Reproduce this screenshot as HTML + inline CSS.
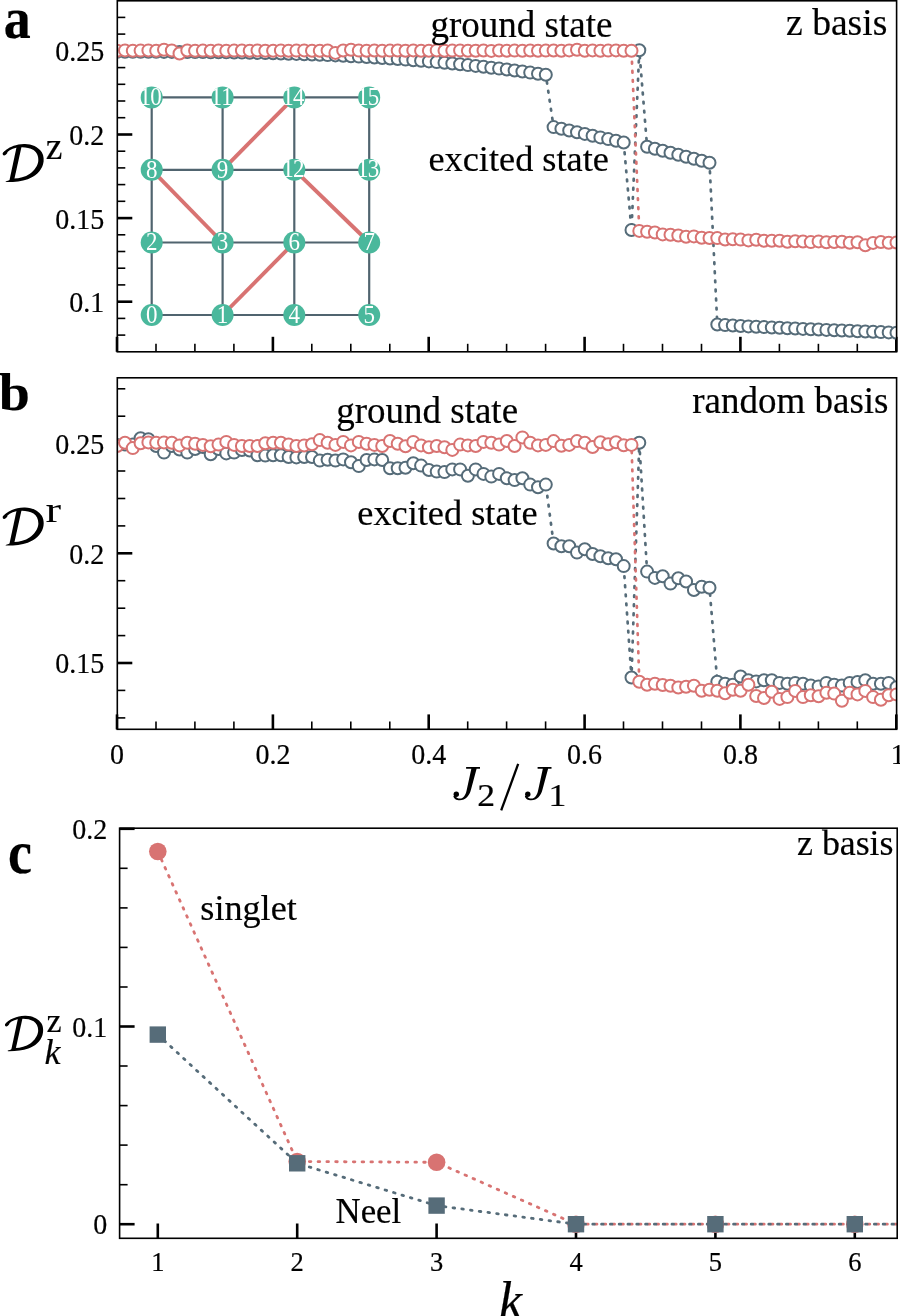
<!DOCTYPE html><html><head><meta charset="utf-8"><style>html,body{margin:0;padding:0;background:#fff;}svg{display:block;will-change:transform}</style></head><body>
<svg width="900" height="1316" viewBox="0 0 900 1316" style="font-family:'Liberation Serif',serif">
<defs><clipPath id="ca"><rect x="117.3" y="0.8" width="779.3" height="351"/></clipPath><clipPath id="cb"><rect x="117.3" y="377.8" width="779.3" height="351.5"/></clipPath><clipPath id="cc"><rect x="119.6" y="828.2" width="777.6" height="410.1"/></clipPath></defs>
<rect width="900" height="1316" fill="#fff"/>
<line x1="117.3" y1="50.9" x2="132.3" y2="50.9" stroke="#000" stroke-width="2.6"/><line x1="117.3" y1="134.5" x2="132.3" y2="134.5" stroke="#000" stroke-width="2.6"/><line x1="117.3" y1="218.1" x2="132.3" y2="218.1" stroke="#000" stroke-width="2.6"/><line x1="117.3" y1="301.7" x2="132.3" y2="301.7" stroke="#000" stroke-width="2.6"/><line x1="117.3" y1="17.4" x2="125.3" y2="17.4" stroke="#000" stroke-width="1.6"/><line x1="117.3" y1="34.1" x2="125.3" y2="34.1" stroke="#000" stroke-width="1.6"/><line x1="117.3" y1="67.6" x2="125.3" y2="67.6" stroke="#000" stroke-width="1.6"/><line x1="117.3" y1="84.3" x2="125.3" y2="84.3" stroke="#000" stroke-width="1.6"/><line x1="117.3" y1="101.0" x2="125.3" y2="101.0" stroke="#000" stroke-width="1.6"/><line x1="117.3" y1="117.7" x2="125.3" y2="117.7" stroke="#000" stroke-width="1.6"/><line x1="117.3" y1="151.2" x2="125.3" y2="151.2" stroke="#000" stroke-width="1.6"/><line x1="117.3" y1="167.9" x2="125.3" y2="167.9" stroke="#000" stroke-width="1.6"/><line x1="117.3" y1="184.6" x2="125.3" y2="184.6" stroke="#000" stroke-width="1.6"/><line x1="117.3" y1="201.3" x2="125.3" y2="201.3" stroke="#000" stroke-width="1.6"/><line x1="117.3" y1="234.8" x2="125.3" y2="234.8" stroke="#000" stroke-width="1.6"/><line x1="117.3" y1="251.5" x2="125.3" y2="251.5" stroke="#000" stroke-width="1.6"/><line x1="117.3" y1="268.2" x2="125.3" y2="268.2" stroke="#000" stroke-width="1.6"/><line x1="117.3" y1="284.9" x2="125.3" y2="284.9" stroke="#000" stroke-width="1.6"/><line x1="117.3" y1="318.4" x2="125.3" y2="318.4" stroke="#000" stroke-width="1.6"/><line x1="117.3" y1="335.1" x2="125.3" y2="335.1" stroke="#000" stroke-width="1.6"/>
<line x1="117.0" y1="351.8" x2="117.0" y2="336.8" stroke="#000" stroke-width="2.6"/><line x1="272.9" y1="351.8" x2="272.9" y2="336.8" stroke="#000" stroke-width="2.6"/><line x1="428.7" y1="351.8" x2="428.7" y2="336.8" stroke="#000" stroke-width="2.6"/><line x1="584.6" y1="351.8" x2="584.6" y2="336.8" stroke="#000" stroke-width="2.6"/><line x1="740.4" y1="351.8" x2="740.4" y2="336.8" stroke="#000" stroke-width="2.6"/><line x1="896.3" y1="351.8" x2="896.3" y2="336.8" stroke="#000" stroke-width="2.6"/><line x1="156.0" y1="351.8" x2="156.0" y2="343.8" stroke="#000" stroke-width="1.6"/><line x1="194.9" y1="351.8" x2="194.9" y2="343.8" stroke="#000" stroke-width="1.6"/><line x1="233.9" y1="351.8" x2="233.9" y2="343.8" stroke="#000" stroke-width="1.6"/><line x1="311.8" y1="351.8" x2="311.8" y2="343.8" stroke="#000" stroke-width="1.6"/><line x1="350.8" y1="351.8" x2="350.8" y2="343.8" stroke="#000" stroke-width="1.6"/><line x1="389.8" y1="351.8" x2="389.8" y2="343.8" stroke="#000" stroke-width="1.6"/><line x1="467.7" y1="351.8" x2="467.7" y2="343.8" stroke="#000" stroke-width="1.6"/><line x1="506.6" y1="351.8" x2="506.6" y2="343.8" stroke="#000" stroke-width="1.6"/><line x1="545.6" y1="351.8" x2="545.6" y2="343.8" stroke="#000" stroke-width="1.6"/><line x1="623.5" y1="351.8" x2="623.5" y2="343.8" stroke="#000" stroke-width="1.6"/><line x1="662.5" y1="351.8" x2="662.5" y2="343.8" stroke="#000" stroke-width="1.6"/><line x1="701.5" y1="351.8" x2="701.5" y2="343.8" stroke="#000" stroke-width="1.6"/><line x1="779.4" y1="351.8" x2="779.4" y2="343.8" stroke="#000" stroke-width="1.6"/><line x1="818.4" y1="351.8" x2="818.4" y2="343.8" stroke="#000" stroke-width="1.6"/><line x1="857.3" y1="351.8" x2="857.3" y2="343.8" stroke="#000" stroke-width="1.6"/>
<g><line x1="151.7" y1="315.0" x2="369.2" y2="315.0" stroke="#50646f" stroke-width="2.2"/><line x1="151.7" y1="242.5" x2="369.2" y2="242.5" stroke="#50646f" stroke-width="2.2"/><line x1="151.7" y1="169.8" x2="369.2" y2="169.8" stroke="#50646f" stroke-width="2.2"/><line x1="151.7" y1="97.4" x2="369.2" y2="97.4" stroke="#50646f" stroke-width="2.2"/><line x1="151.7" y1="315.0" x2="151.7" y2="97.4" stroke="#50646f" stroke-width="2.2"/><line x1="222.6" y1="315.0" x2="222.6" y2="97.4" stroke="#50646f" stroke-width="2.2"/><line x1="294.3" y1="315.0" x2="294.3" y2="97.4" stroke="#50646f" stroke-width="2.2"/><line x1="369.2" y1="315.0" x2="369.2" y2="97.4" stroke="#50646f" stroke-width="2.2"/><line x1="222.6" y1="315.0" x2="294.3" y2="242.5" stroke="#d87372" stroke-width="3.9"/><line x1="151.7" y1="169.8" x2="222.6" y2="242.5" stroke="#d87372" stroke-width="3.9"/><line x1="222.6" y1="169.8" x2="294.3" y2="97.4" stroke="#d87372" stroke-width="3.9"/><line x1="294.3" y1="169.8" x2="369.2" y2="242.5" stroke="#d87372" stroke-width="3.9"/><circle cx="151.7" cy="315.0" r="11" fill="#4ab89c"/><text x="0" y="0" transform="translate(151.7,322.8) scale(1.0,1.06)" font-size="23" text-anchor="middle" font-weight="normal" font-style="normal" fill="#fff" >0</text><circle cx="222.6" cy="315.0" r="11" fill="#4ab89c"/><text x="0" y="0" transform="translate(222.6,322.8) scale(1.0,1.06)" font-size="23" text-anchor="middle" font-weight="normal" font-style="normal" fill="#fff" >1</text><circle cx="294.3" cy="315.0" r="11" fill="#4ab89c"/><text x="0" y="0" transform="translate(294.3,322.8) scale(1.0,1.06)" font-size="23" text-anchor="middle" font-weight="normal" font-style="normal" fill="#fff" >4</text><circle cx="369.2" cy="315.0" r="11" fill="#4ab89c"/><text x="0" y="0" transform="translate(369.2,322.8) scale(1.0,1.06)" font-size="23" text-anchor="middle" font-weight="normal" font-style="normal" fill="#fff" >5</text><circle cx="151.7" cy="242.5" r="11" fill="#4ab89c"/><text x="0" y="0" transform="translate(151.7,250.3) scale(1.0,1.06)" font-size="23" text-anchor="middle" font-weight="normal" font-style="normal" fill="#fff" >2</text><circle cx="222.6" cy="242.5" r="11" fill="#4ab89c"/><text x="0" y="0" transform="translate(222.6,250.3) scale(1.0,1.06)" font-size="23" text-anchor="middle" font-weight="normal" font-style="normal" fill="#fff" >3</text><circle cx="294.3" cy="242.5" r="11" fill="#4ab89c"/><text x="0" y="0" transform="translate(294.3,250.3) scale(1.0,1.06)" font-size="23" text-anchor="middle" font-weight="normal" font-style="normal" fill="#fff" >6</text><circle cx="369.2" cy="242.5" r="11" fill="#4ab89c"/><text x="0" y="0" transform="translate(369.2,250.3) scale(1.0,1.06)" font-size="23" text-anchor="middle" font-weight="normal" font-style="normal" fill="#fff" >7</text><circle cx="151.7" cy="169.8" r="11" fill="#4ab89c"/><text x="0" y="0" transform="translate(151.7,177.6) scale(1.0,1.06)" font-size="23" text-anchor="middle" font-weight="normal" font-style="normal" fill="#fff" >8</text><circle cx="222.6" cy="169.8" r="11" fill="#4ab89c"/><text x="0" y="0" transform="translate(222.6,177.6) scale(1.0,1.06)" font-size="23" text-anchor="middle" font-weight="normal" font-style="normal" fill="#fff" >9</text><circle cx="294.3" cy="169.8" r="11" fill="#4ab89c"/><text x="0" y="0" transform="translate(287.9,177.4) scale(1.0,1.06)" font-size="23" text-anchor="middle" font-weight="normal" font-style="normal" fill="#fff" >1</text><text x="0" y="0" transform="translate(298.7,177.4) scale(1.0,1.06)" font-size="23" text-anchor="middle" font-weight="normal" font-style="normal" fill="#fff" >2</text><circle cx="369.2" cy="169.8" r="11" fill="#4ab89c"/><text x="0" y="0" transform="translate(362.8,177.4) scale(1.0,1.06)" font-size="23" text-anchor="middle" font-weight="normal" font-style="normal" fill="#fff" >1</text><text x="0" y="0" transform="translate(373.6,177.4) scale(1.0,1.06)" font-size="23" text-anchor="middle" font-weight="normal" font-style="normal" fill="#fff" >3</text><circle cx="151.7" cy="97.4" r="11" fill="#4ab89c"/><text x="0" y="0" transform="translate(145.3,105.0) scale(1.0,1.06)" font-size="23" text-anchor="middle" font-weight="normal" font-style="normal" fill="#fff" >1</text><text x="0" y="0" transform="translate(156.1,105.0) scale(1.0,1.06)" font-size="23" text-anchor="middle" font-weight="normal" font-style="normal" fill="#fff" >0</text><circle cx="222.6" cy="97.4" r="11" fill="#4ab89c"/><text x="0" y="0" transform="translate(216.2,105.0) scale(1.0,1.06)" font-size="23" text-anchor="middle" font-weight="normal" font-style="normal" fill="#fff" >1</text><text x="0" y="0" transform="translate(227.0,105.0) scale(1.0,1.06)" font-size="23" text-anchor="middle" font-weight="normal" font-style="normal" fill="#fff" >1</text><circle cx="294.3" cy="97.4" r="11" fill="#4ab89c"/><text x="0" y="0" transform="translate(287.9,105.0) scale(1.0,1.06)" font-size="23" text-anchor="middle" font-weight="normal" font-style="normal" fill="#fff" >1</text><text x="0" y="0" transform="translate(298.7,105.0) scale(1.0,1.06)" font-size="23" text-anchor="middle" font-weight="normal" font-style="normal" fill="#fff" >4</text><circle cx="369.2" cy="97.4" r="11" fill="#4ab89c"/><text x="0" y="0" transform="translate(362.8,105.0) scale(1.0,1.06)" font-size="23" text-anchor="middle" font-weight="normal" font-style="normal" fill="#fff" >1</text><text x="0" y="0" transform="translate(373.6,105.0) scale(1.0,1.06)" font-size="23" text-anchor="middle" font-weight="normal" font-style="normal" fill="#fff" >5</text></g>
<g clip-path="url(#ca)"><polyline points="117.2,51.8 125.0,51.8 132.8,51.8 140.6,51.8 148.4,51.8 156.2,51.8 164.0,51.9 171.8,51.9 179.5,51.9 187.3,52.0 195.1,52.0 202.9,52.1 210.7,52.2 218.5,52.2 226.3,52.3 234.1,52.5 241.9,52.6 249.7,52.7 257.5,52.9 265.3,53.1 273.1,53.3 280.9,53.5 288.6,53.7 296.4,53.9 304.2,54.2 312.0,54.5 319.8,54.8 327.6,55.1 335.4,55.4 343.2,55.8 351.0,56.2 358.8,56.6 366.6,57.0 374.4,57.5 382.2,58.0 390.0,58.5 397.7,59.0 405.5,59.6 413.3,60.2 421.1,60.8 428.9,61.4 436.7,62.1 444.5,62.8 452.3,63.5 460.1,64.3 467.9,65.1 475.7,65.9 483.5,66.8 491.3,67.7 499.1,68.6 506.8,69.5 514.6,70.5 522.4,71.5 530.2,72.6 538.0,73.7 545.8,74.8 553.6,127.1 561.4,128.8 569.2,130.5 577.0,132.2 584.8,133.9 592.6,135.7 600.4,137.4 608.2,139.1 616.0,140.8 623.7,142.5 631.5,230.0 639.3,50.3 647.1,146.7 654.9,148.7 662.7,150.7 670.5,152.7 678.3,154.7 686.1,156.7 693.9,158.7 701.7,160.7 709.5,162.7 717.3,324.5 725.1,325.1 732.8,325.5 740.6,326.0 748.4,326.4 756.2,326.7 764.0,327.1 771.8,327.5 779.6,327.8 787.4,328.2 795.2,328.5 803.0,328.9 810.8,329.2 818.6,329.5 826.4,329.9 834.2,330.2 841.9,330.5 849.7,330.8 857.5,331.2 865.3,331.5 873.1,331.8 880.9,332.1 888.7,332.4 896.5,332.7" fill="none" stroke="#566c79" stroke-width="2.7" stroke-dasharray="1.7 7.4" stroke-linecap="round"/><circle cx="117.2" cy="51.8" r="6.0" fill="#fff" stroke="#566c79" stroke-width="2.0"/><circle cx="125.0" cy="51.8" r="6.0" fill="#fff" stroke="#566c79" stroke-width="2.0"/><circle cx="132.8" cy="51.8" r="6.0" fill="#fff" stroke="#566c79" stroke-width="2.0"/><circle cx="140.6" cy="51.8" r="6.0" fill="#fff" stroke="#566c79" stroke-width="2.0"/><circle cx="148.4" cy="51.8" r="6.0" fill="#fff" stroke="#566c79" stroke-width="2.0"/><circle cx="156.2" cy="51.8" r="6.0" fill="#fff" stroke="#566c79" stroke-width="2.0"/><circle cx="164.0" cy="51.9" r="6.0" fill="#fff" stroke="#566c79" stroke-width="2.0"/><circle cx="171.8" cy="51.9" r="6.0" fill="#fff" stroke="#566c79" stroke-width="2.0"/><circle cx="179.5" cy="51.9" r="6.0" fill="#fff" stroke="#566c79" stroke-width="2.0"/><circle cx="187.3" cy="52.0" r="6.0" fill="#fff" stroke="#566c79" stroke-width="2.0"/><circle cx="195.1" cy="52.0" r="6.0" fill="#fff" stroke="#566c79" stroke-width="2.0"/><circle cx="202.9" cy="52.1" r="6.0" fill="#fff" stroke="#566c79" stroke-width="2.0"/><circle cx="210.7" cy="52.2" r="6.0" fill="#fff" stroke="#566c79" stroke-width="2.0"/><circle cx="218.5" cy="52.2" r="6.0" fill="#fff" stroke="#566c79" stroke-width="2.0"/><circle cx="226.3" cy="52.3" r="6.0" fill="#fff" stroke="#566c79" stroke-width="2.0"/><circle cx="234.1" cy="52.5" r="6.0" fill="#fff" stroke="#566c79" stroke-width="2.0"/><circle cx="241.9" cy="52.6" r="6.0" fill="#fff" stroke="#566c79" stroke-width="2.0"/><circle cx="249.7" cy="52.7" r="6.0" fill="#fff" stroke="#566c79" stroke-width="2.0"/><circle cx="257.5" cy="52.9" r="6.0" fill="#fff" stroke="#566c79" stroke-width="2.0"/><circle cx="265.3" cy="53.1" r="6.0" fill="#fff" stroke="#566c79" stroke-width="2.0"/><circle cx="273.1" cy="53.3" r="6.0" fill="#fff" stroke="#566c79" stroke-width="2.0"/><circle cx="280.9" cy="53.5" r="6.0" fill="#fff" stroke="#566c79" stroke-width="2.0"/><circle cx="288.6" cy="53.7" r="6.0" fill="#fff" stroke="#566c79" stroke-width="2.0"/><circle cx="296.4" cy="53.9" r="6.0" fill="#fff" stroke="#566c79" stroke-width="2.0"/><circle cx="304.2" cy="54.2" r="6.0" fill="#fff" stroke="#566c79" stroke-width="2.0"/><circle cx="312.0" cy="54.5" r="6.0" fill="#fff" stroke="#566c79" stroke-width="2.0"/><circle cx="319.8" cy="54.8" r="6.0" fill="#fff" stroke="#566c79" stroke-width="2.0"/><circle cx="327.6" cy="55.1" r="6.0" fill="#fff" stroke="#566c79" stroke-width="2.0"/><circle cx="335.4" cy="55.4" r="6.0" fill="#fff" stroke="#566c79" stroke-width="2.0"/><circle cx="343.2" cy="55.8" r="6.0" fill="#fff" stroke="#566c79" stroke-width="2.0"/><circle cx="351.0" cy="56.2" r="6.0" fill="#fff" stroke="#566c79" stroke-width="2.0"/><circle cx="358.8" cy="56.6" r="6.0" fill="#fff" stroke="#566c79" stroke-width="2.0"/><circle cx="366.6" cy="57.0" r="6.0" fill="#fff" stroke="#566c79" stroke-width="2.0"/><circle cx="374.4" cy="57.5" r="6.0" fill="#fff" stroke="#566c79" stroke-width="2.0"/><circle cx="382.2" cy="58.0" r="6.0" fill="#fff" stroke="#566c79" stroke-width="2.0"/><circle cx="390.0" cy="58.5" r="6.0" fill="#fff" stroke="#566c79" stroke-width="2.0"/><circle cx="397.7" cy="59.0" r="6.0" fill="#fff" stroke="#566c79" stroke-width="2.0"/><circle cx="405.5" cy="59.6" r="6.0" fill="#fff" stroke="#566c79" stroke-width="2.0"/><circle cx="413.3" cy="60.2" r="6.0" fill="#fff" stroke="#566c79" stroke-width="2.0"/><circle cx="421.1" cy="60.8" r="6.0" fill="#fff" stroke="#566c79" stroke-width="2.0"/><circle cx="428.9" cy="61.4" r="6.0" fill="#fff" stroke="#566c79" stroke-width="2.0"/><circle cx="436.7" cy="62.1" r="6.0" fill="#fff" stroke="#566c79" stroke-width="2.0"/><circle cx="444.5" cy="62.8" r="6.0" fill="#fff" stroke="#566c79" stroke-width="2.0"/><circle cx="452.3" cy="63.5" r="6.0" fill="#fff" stroke="#566c79" stroke-width="2.0"/><circle cx="460.1" cy="64.3" r="6.0" fill="#fff" stroke="#566c79" stroke-width="2.0"/><circle cx="467.9" cy="65.1" r="6.0" fill="#fff" stroke="#566c79" stroke-width="2.0"/><circle cx="475.7" cy="65.9" r="6.0" fill="#fff" stroke="#566c79" stroke-width="2.0"/><circle cx="483.5" cy="66.8" r="6.0" fill="#fff" stroke="#566c79" stroke-width="2.0"/><circle cx="491.3" cy="67.7" r="6.0" fill="#fff" stroke="#566c79" stroke-width="2.0"/><circle cx="499.1" cy="68.6" r="6.0" fill="#fff" stroke="#566c79" stroke-width="2.0"/><circle cx="506.8" cy="69.5" r="6.0" fill="#fff" stroke="#566c79" stroke-width="2.0"/><circle cx="514.6" cy="70.5" r="6.0" fill="#fff" stroke="#566c79" stroke-width="2.0"/><circle cx="522.4" cy="71.5" r="6.0" fill="#fff" stroke="#566c79" stroke-width="2.0"/><circle cx="530.2" cy="72.6" r="6.0" fill="#fff" stroke="#566c79" stroke-width="2.0"/><circle cx="538.0" cy="73.7" r="6.0" fill="#fff" stroke="#566c79" stroke-width="2.0"/><circle cx="545.8" cy="74.8" r="6.0" fill="#fff" stroke="#566c79" stroke-width="2.0"/><circle cx="553.6" cy="127.1" r="6.0" fill="#fff" stroke="#566c79" stroke-width="2.0"/><circle cx="561.4" cy="128.8" r="6.0" fill="#fff" stroke="#566c79" stroke-width="2.0"/><circle cx="569.2" cy="130.5" r="6.0" fill="#fff" stroke="#566c79" stroke-width="2.0"/><circle cx="577.0" cy="132.2" r="6.0" fill="#fff" stroke="#566c79" stroke-width="2.0"/><circle cx="584.8" cy="133.9" r="6.0" fill="#fff" stroke="#566c79" stroke-width="2.0"/><circle cx="592.6" cy="135.7" r="6.0" fill="#fff" stroke="#566c79" stroke-width="2.0"/><circle cx="600.4" cy="137.4" r="6.0" fill="#fff" stroke="#566c79" stroke-width="2.0"/><circle cx="608.2" cy="139.1" r="6.0" fill="#fff" stroke="#566c79" stroke-width="2.0"/><circle cx="616.0" cy="140.8" r="6.0" fill="#fff" stroke="#566c79" stroke-width="2.0"/><circle cx="623.7" cy="142.5" r="6.0" fill="#fff" stroke="#566c79" stroke-width="2.0"/><circle cx="631.5" cy="230.0" r="6.0" fill="#fff" stroke="#566c79" stroke-width="2.0"/><circle cx="639.3" cy="50.3" r="6.0" fill="#fff" stroke="#566c79" stroke-width="2.0"/><circle cx="647.1" cy="146.7" r="6.0" fill="#fff" stroke="#566c79" stroke-width="2.0"/><circle cx="654.9" cy="148.7" r="6.0" fill="#fff" stroke="#566c79" stroke-width="2.0"/><circle cx="662.7" cy="150.7" r="6.0" fill="#fff" stroke="#566c79" stroke-width="2.0"/><circle cx="670.5" cy="152.7" r="6.0" fill="#fff" stroke="#566c79" stroke-width="2.0"/><circle cx="678.3" cy="154.7" r="6.0" fill="#fff" stroke="#566c79" stroke-width="2.0"/><circle cx="686.1" cy="156.7" r="6.0" fill="#fff" stroke="#566c79" stroke-width="2.0"/><circle cx="693.9" cy="158.7" r="6.0" fill="#fff" stroke="#566c79" stroke-width="2.0"/><circle cx="701.7" cy="160.7" r="6.0" fill="#fff" stroke="#566c79" stroke-width="2.0"/><circle cx="709.5" cy="162.7" r="6.0" fill="#fff" stroke="#566c79" stroke-width="2.0"/><circle cx="717.3" cy="324.5" r="6.0" fill="#fff" stroke="#566c79" stroke-width="2.0"/><circle cx="725.1" cy="325.1" r="6.0" fill="#fff" stroke="#566c79" stroke-width="2.0"/><circle cx="732.8" cy="325.5" r="6.0" fill="#fff" stroke="#566c79" stroke-width="2.0"/><circle cx="740.6" cy="326.0" r="6.0" fill="#fff" stroke="#566c79" stroke-width="2.0"/><circle cx="748.4" cy="326.4" r="6.0" fill="#fff" stroke="#566c79" stroke-width="2.0"/><circle cx="756.2" cy="326.7" r="6.0" fill="#fff" stroke="#566c79" stroke-width="2.0"/><circle cx="764.0" cy="327.1" r="6.0" fill="#fff" stroke="#566c79" stroke-width="2.0"/><circle cx="771.8" cy="327.5" r="6.0" fill="#fff" stroke="#566c79" stroke-width="2.0"/><circle cx="779.6" cy="327.8" r="6.0" fill="#fff" stroke="#566c79" stroke-width="2.0"/><circle cx="787.4" cy="328.2" r="6.0" fill="#fff" stroke="#566c79" stroke-width="2.0"/><circle cx="795.2" cy="328.5" r="6.0" fill="#fff" stroke="#566c79" stroke-width="2.0"/><circle cx="803.0" cy="328.9" r="6.0" fill="#fff" stroke="#566c79" stroke-width="2.0"/><circle cx="810.8" cy="329.2" r="6.0" fill="#fff" stroke="#566c79" stroke-width="2.0"/><circle cx="818.6" cy="329.5" r="6.0" fill="#fff" stroke="#566c79" stroke-width="2.0"/><circle cx="826.4" cy="329.9" r="6.0" fill="#fff" stroke="#566c79" stroke-width="2.0"/><circle cx="834.2" cy="330.2" r="6.0" fill="#fff" stroke="#566c79" stroke-width="2.0"/><circle cx="841.9" cy="330.5" r="6.0" fill="#fff" stroke="#566c79" stroke-width="2.0"/><circle cx="849.7" cy="330.8" r="6.0" fill="#fff" stroke="#566c79" stroke-width="2.0"/><circle cx="857.5" cy="331.2" r="6.0" fill="#fff" stroke="#566c79" stroke-width="2.0"/><circle cx="865.3" cy="331.5" r="6.0" fill="#fff" stroke="#566c79" stroke-width="2.0"/><circle cx="873.1" cy="331.8" r="6.0" fill="#fff" stroke="#566c79" stroke-width="2.0"/><circle cx="880.9" cy="332.1" r="6.0" fill="#fff" stroke="#566c79" stroke-width="2.0"/><circle cx="888.7" cy="332.4" r="6.0" fill="#fff" stroke="#566c79" stroke-width="2.0"/><circle cx="896.5" cy="332.7" r="6.0" fill="#fff" stroke="#566c79" stroke-width="2.0"/></g>
<g clip-path="url(#ca)"><polyline points="117.2,50.7 125.0,50.4 132.8,50.7 140.6,50.6 148.4,50.4 156.2,50.8 164.0,49.8 171.8,50.5 179.5,53.5 187.3,50.5 195.1,50.7 202.9,50.6 210.7,50.7 218.5,50.5 226.3,50.8 234.1,50.6 241.9,50.5 249.7,50.8 257.5,50.4 265.3,50.7 273.1,50.7 280.9,50.4 288.6,50.7 296.4,50.6 304.2,50.4 312.0,50.8 319.8,50.7 327.6,50.5 335.4,52.9 343.2,50.5 351.0,49.8 358.8,50.6 366.6,50.7 374.4,50.5 382.2,50.8 390.0,50.6 397.7,50.5 405.5,50.8 413.3,50.4 421.1,50.7 428.9,50.7 436.7,50.4 444.5,50.7 452.3,50.6 460.1,50.4 467.9,50.8 475.7,50.7 483.5,50.5 491.3,50.9 499.1,50.5 506.8,50.7 514.6,50.6 522.4,50.7 530.2,50.5 538.0,50.8 545.8,50.6 553.6,50.5 561.4,50.8 569.2,50.4 577.0,49.8 584.8,50.7 592.6,50.4 600.4,50.7 608.2,50.6 616.0,50.4 623.7,50.8 631.5,50.7 639.3,230.9 647.1,231.8 654.9,232.5 662.7,234.4 670.5,234.7 678.3,235.5 686.1,236.7 693.9,236.4 701.7,237.7 709.5,238.0 717.3,238.1 725.1,239.5 732.8,239.3 740.6,239.6 748.4,240.4 756.2,239.8 764.0,240.8 771.8,240.7 779.6,240.7 787.4,241.7 795.2,241.3 803.0,241.5 810.8,242.1 818.6,241.4 826.4,242.2 834.2,242.0 841.9,241.8 849.7,242.8 857.5,242.2 865.3,245.3 873.1,242.9 880.9,242.0 888.7,242.8 896.5,242.5" fill="none" stroke="#d87372" stroke-width="2.7" stroke-dasharray="1.7 7.4" stroke-linecap="round"/><circle cx="117.2" cy="50.7" r="6.0" fill="#fff" stroke="#d87372" stroke-width="2.0"/><circle cx="125.0" cy="50.4" r="6.0" fill="#fff" stroke="#d87372" stroke-width="2.0"/><circle cx="132.8" cy="50.7" r="6.0" fill="#fff" stroke="#d87372" stroke-width="2.0"/><circle cx="140.6" cy="50.6" r="6.0" fill="#fff" stroke="#d87372" stroke-width="2.0"/><circle cx="148.4" cy="50.4" r="6.0" fill="#fff" stroke="#d87372" stroke-width="2.0"/><circle cx="156.2" cy="50.8" r="6.0" fill="#fff" stroke="#d87372" stroke-width="2.0"/><circle cx="164.0" cy="49.8" r="6.0" fill="#fff" stroke="#d87372" stroke-width="2.0"/><circle cx="171.8" cy="50.5" r="6.0" fill="#fff" stroke="#d87372" stroke-width="2.0"/><circle cx="179.5" cy="53.5" r="6.0" fill="#fff" stroke="#d87372" stroke-width="2.0"/><circle cx="187.3" cy="50.5" r="6.0" fill="#fff" stroke="#d87372" stroke-width="2.0"/><circle cx="195.1" cy="50.7" r="6.0" fill="#fff" stroke="#d87372" stroke-width="2.0"/><circle cx="202.9" cy="50.6" r="6.0" fill="#fff" stroke="#d87372" stroke-width="2.0"/><circle cx="210.7" cy="50.7" r="6.0" fill="#fff" stroke="#d87372" stroke-width="2.0"/><circle cx="218.5" cy="50.5" r="6.0" fill="#fff" stroke="#d87372" stroke-width="2.0"/><circle cx="226.3" cy="50.8" r="6.0" fill="#fff" stroke="#d87372" stroke-width="2.0"/><circle cx="234.1" cy="50.6" r="6.0" fill="#fff" stroke="#d87372" stroke-width="2.0"/><circle cx="241.9" cy="50.5" r="6.0" fill="#fff" stroke="#d87372" stroke-width="2.0"/><circle cx="249.7" cy="50.8" r="6.0" fill="#fff" stroke="#d87372" stroke-width="2.0"/><circle cx="257.5" cy="50.4" r="6.0" fill="#fff" stroke="#d87372" stroke-width="2.0"/><circle cx="265.3" cy="50.7" r="6.0" fill="#fff" stroke="#d87372" stroke-width="2.0"/><circle cx="273.1" cy="50.7" r="6.0" fill="#fff" stroke="#d87372" stroke-width="2.0"/><circle cx="280.9" cy="50.4" r="6.0" fill="#fff" stroke="#d87372" stroke-width="2.0"/><circle cx="288.6" cy="50.7" r="6.0" fill="#fff" stroke="#d87372" stroke-width="2.0"/><circle cx="296.4" cy="50.6" r="6.0" fill="#fff" stroke="#d87372" stroke-width="2.0"/><circle cx="304.2" cy="50.4" r="6.0" fill="#fff" stroke="#d87372" stroke-width="2.0"/><circle cx="312.0" cy="50.8" r="6.0" fill="#fff" stroke="#d87372" stroke-width="2.0"/><circle cx="319.8" cy="50.7" r="6.0" fill="#fff" stroke="#d87372" stroke-width="2.0"/><circle cx="327.6" cy="50.5" r="6.0" fill="#fff" stroke="#d87372" stroke-width="2.0"/><circle cx="335.4" cy="52.9" r="6.0" fill="#fff" stroke="#d87372" stroke-width="2.0"/><circle cx="343.2" cy="50.5" r="6.0" fill="#fff" stroke="#d87372" stroke-width="2.0"/><circle cx="351.0" cy="49.8" r="6.0" fill="#fff" stroke="#d87372" stroke-width="2.0"/><circle cx="358.8" cy="50.6" r="6.0" fill="#fff" stroke="#d87372" stroke-width="2.0"/><circle cx="366.6" cy="50.7" r="6.0" fill="#fff" stroke="#d87372" stroke-width="2.0"/><circle cx="374.4" cy="50.5" r="6.0" fill="#fff" stroke="#d87372" stroke-width="2.0"/><circle cx="382.2" cy="50.8" r="6.0" fill="#fff" stroke="#d87372" stroke-width="2.0"/><circle cx="390.0" cy="50.6" r="6.0" fill="#fff" stroke="#d87372" stroke-width="2.0"/><circle cx="397.7" cy="50.5" r="6.0" fill="#fff" stroke="#d87372" stroke-width="2.0"/><circle cx="405.5" cy="50.8" r="6.0" fill="#fff" stroke="#d87372" stroke-width="2.0"/><circle cx="413.3" cy="50.4" r="6.0" fill="#fff" stroke="#d87372" stroke-width="2.0"/><circle cx="421.1" cy="50.7" r="6.0" fill="#fff" stroke="#d87372" stroke-width="2.0"/><circle cx="428.9" cy="50.7" r="6.0" fill="#fff" stroke="#d87372" stroke-width="2.0"/><circle cx="436.7" cy="50.4" r="6.0" fill="#fff" stroke="#d87372" stroke-width="2.0"/><circle cx="444.5" cy="50.7" r="6.0" fill="#fff" stroke="#d87372" stroke-width="2.0"/><circle cx="452.3" cy="50.6" r="6.0" fill="#fff" stroke="#d87372" stroke-width="2.0"/><circle cx="460.1" cy="50.4" r="6.0" fill="#fff" stroke="#d87372" stroke-width="2.0"/><circle cx="467.9" cy="50.8" r="6.0" fill="#fff" stroke="#d87372" stroke-width="2.0"/><circle cx="475.7" cy="50.7" r="6.0" fill="#fff" stroke="#d87372" stroke-width="2.0"/><circle cx="483.5" cy="50.5" r="6.0" fill="#fff" stroke="#d87372" stroke-width="2.0"/><circle cx="491.3" cy="50.9" r="6.0" fill="#fff" stroke="#d87372" stroke-width="2.0"/><circle cx="499.1" cy="50.5" r="6.0" fill="#fff" stroke="#d87372" stroke-width="2.0"/><circle cx="506.8" cy="50.7" r="6.0" fill="#fff" stroke="#d87372" stroke-width="2.0"/><circle cx="514.6" cy="50.6" r="6.0" fill="#fff" stroke="#d87372" stroke-width="2.0"/><circle cx="522.4" cy="50.7" r="6.0" fill="#fff" stroke="#d87372" stroke-width="2.0"/><circle cx="530.2" cy="50.5" r="6.0" fill="#fff" stroke="#d87372" stroke-width="2.0"/><circle cx="538.0" cy="50.8" r="6.0" fill="#fff" stroke="#d87372" stroke-width="2.0"/><circle cx="545.8" cy="50.6" r="6.0" fill="#fff" stroke="#d87372" stroke-width="2.0"/><circle cx="553.6" cy="50.5" r="6.0" fill="#fff" stroke="#d87372" stroke-width="2.0"/><circle cx="561.4" cy="50.8" r="6.0" fill="#fff" stroke="#d87372" stroke-width="2.0"/><circle cx="569.2" cy="50.4" r="6.0" fill="#fff" stroke="#d87372" stroke-width="2.0"/><circle cx="577.0" cy="49.8" r="6.0" fill="#fff" stroke="#d87372" stroke-width="2.0"/><circle cx="584.8" cy="50.7" r="6.0" fill="#fff" stroke="#d87372" stroke-width="2.0"/><circle cx="592.6" cy="50.4" r="6.0" fill="#fff" stroke="#d87372" stroke-width="2.0"/><circle cx="600.4" cy="50.7" r="6.0" fill="#fff" stroke="#d87372" stroke-width="2.0"/><circle cx="608.2" cy="50.6" r="6.0" fill="#fff" stroke="#d87372" stroke-width="2.0"/><circle cx="616.0" cy="50.4" r="6.0" fill="#fff" stroke="#d87372" stroke-width="2.0"/><circle cx="623.7" cy="50.8" r="6.0" fill="#fff" stroke="#d87372" stroke-width="2.0"/><circle cx="631.5" cy="50.7" r="6.0" fill="#fff" stroke="#d87372" stroke-width="2.0"/><circle cx="639.3" cy="230.9" r="6.0" fill="#fff" stroke="#d87372" stroke-width="2.0"/><circle cx="647.1" cy="231.8" r="6.0" fill="#fff" stroke="#d87372" stroke-width="2.0"/><circle cx="654.9" cy="232.5" r="6.0" fill="#fff" stroke="#d87372" stroke-width="2.0"/><circle cx="662.7" cy="234.4" r="6.0" fill="#fff" stroke="#d87372" stroke-width="2.0"/><circle cx="670.5" cy="234.7" r="6.0" fill="#fff" stroke="#d87372" stroke-width="2.0"/><circle cx="678.3" cy="235.5" r="6.0" fill="#fff" stroke="#d87372" stroke-width="2.0"/><circle cx="686.1" cy="236.7" r="6.0" fill="#fff" stroke="#d87372" stroke-width="2.0"/><circle cx="693.9" cy="236.4" r="6.0" fill="#fff" stroke="#d87372" stroke-width="2.0"/><circle cx="701.7" cy="237.7" r="6.0" fill="#fff" stroke="#d87372" stroke-width="2.0"/><circle cx="709.5" cy="238.0" r="6.0" fill="#fff" stroke="#d87372" stroke-width="2.0"/><circle cx="717.3" cy="238.1" r="6.0" fill="#fff" stroke="#d87372" stroke-width="2.0"/><circle cx="725.1" cy="239.5" r="6.0" fill="#fff" stroke="#d87372" stroke-width="2.0"/><circle cx="732.8" cy="239.3" r="6.0" fill="#fff" stroke="#d87372" stroke-width="2.0"/><circle cx="740.6" cy="239.6" r="6.0" fill="#fff" stroke="#d87372" stroke-width="2.0"/><circle cx="748.4" cy="240.4" r="6.0" fill="#fff" stroke="#d87372" stroke-width="2.0"/><circle cx="756.2" cy="239.8" r="6.0" fill="#fff" stroke="#d87372" stroke-width="2.0"/><circle cx="764.0" cy="240.8" r="6.0" fill="#fff" stroke="#d87372" stroke-width="2.0"/><circle cx="771.8" cy="240.7" r="6.0" fill="#fff" stroke="#d87372" stroke-width="2.0"/><circle cx="779.6" cy="240.7" r="6.0" fill="#fff" stroke="#d87372" stroke-width="2.0"/><circle cx="787.4" cy="241.7" r="6.0" fill="#fff" stroke="#d87372" stroke-width="2.0"/><circle cx="795.2" cy="241.3" r="6.0" fill="#fff" stroke="#d87372" stroke-width="2.0"/><circle cx="803.0" cy="241.5" r="6.0" fill="#fff" stroke="#d87372" stroke-width="2.0"/><circle cx="810.8" cy="242.1" r="6.0" fill="#fff" stroke="#d87372" stroke-width="2.0"/><circle cx="818.6" cy="241.4" r="6.0" fill="#fff" stroke="#d87372" stroke-width="2.0"/><circle cx="826.4" cy="242.2" r="6.0" fill="#fff" stroke="#d87372" stroke-width="2.0"/><circle cx="834.2" cy="242.0" r="6.0" fill="#fff" stroke="#d87372" stroke-width="2.0"/><circle cx="841.9" cy="241.8" r="6.0" fill="#fff" stroke="#d87372" stroke-width="2.0"/><circle cx="849.7" cy="242.8" r="6.0" fill="#fff" stroke="#d87372" stroke-width="2.0"/><circle cx="857.5" cy="242.2" r="6.0" fill="#fff" stroke="#d87372" stroke-width="2.0"/><circle cx="865.3" cy="245.3" r="6.0" fill="#fff" stroke="#d87372" stroke-width="2.0"/><circle cx="873.1" cy="242.9" r="6.0" fill="#fff" stroke="#d87372" stroke-width="2.0"/><circle cx="880.9" cy="242.0" r="6.0" fill="#fff" stroke="#d87372" stroke-width="2.0"/><circle cx="888.7" cy="242.8" r="6.0" fill="#fff" stroke="#d87372" stroke-width="2.0"/><circle cx="896.5" cy="242.5" r="6.0" fill="#fff" stroke="#d87372" stroke-width="2.0"/></g>
<rect x="117.3" y="0.8" width="779.3" height="351" fill="none" stroke="#000" stroke-width="1.6"/>
<text x="0" y="0" transform="translate(104.3,61.3) scale(1.0,1.06)" font-size="28" text-anchor="end" font-weight="normal" font-style="normal" fill="#000" stroke="#000" stroke-width="0.2" stroke-linejoin="round" >0.25</text>
<text x="0" y="0" transform="translate(104.3,144.9) scale(1.0,1.06)" font-size="28" text-anchor="end" font-weight="normal" font-style="normal" fill="#000" stroke="#000" stroke-width="0.2" stroke-linejoin="round" >0.2</text>
<text x="0" y="0" transform="translate(104.3,228.5) scale(1.0,1.06)" font-size="28" text-anchor="end" font-weight="normal" font-style="normal" fill="#000" stroke="#000" stroke-width="0.2" stroke-linejoin="round" >0.15</text>
<text x="0" y="0" transform="translate(104.3,312.1) scale(1.0,1.06)" font-size="28" text-anchor="end" font-weight="normal" font-style="normal" fill="#000" stroke="#000" stroke-width="0.2" stroke-linejoin="round" >0.1</text>
<text x="0" y="0" transform="translate(3.7,38) scale(1.0,1.09)" font-size="54" text-anchor="start" font-weight="bold" font-style="normal" fill="#000" stroke="#000" stroke-width="0.2" stroke-linejoin="round" >a</text>
<g transform="translate(0,140) scale(1.0)" fill="#000">
<path d="M3.0,14.6 C2.6,13.2 4.2,11.2 6.2,9.8 C10.5,6.6 16,4.4 24,4.0 C31,3.7 38,6.5 41.8,12.2 C43.9,15.6 44.2,20.6 43.0,24.6 C41,31.4 35,36.6 27.8,39.2 C21.5,41.5 14,42.2 5.8,42.1 L5.6,41.5 C8.5,40.6 11.5,39.4 13.9,38.6 C19.5,38.4 25,37.2 29.9,33.8 C34.6,30.4 37.8,25.6 38.3,21.0 C38.7,16.2 36.8,12.2 33.5,10.0 C29.6,7.6 24.5,7.0 19.8,7.3 C14.8,7.6 10.2,9.4 7.2,12.3 C6.0,13.6 5.0,15.2 3.0,14.6 Z"/>
<path d="M16.9,5.6 L21.8,5.4 L14.3,39.2 L9.2,41.6 Z"/>
<ellipse cx="5.0" cy="13.2" rx="2.7" ry="1.7" transform="rotate(-38 5.0 13.2)"/>
</g>
<text x="45.8" y="159.3" font-size="37.5" text-anchor="start" font-weight="normal" font-style="normal" fill="#000" stroke="#000" stroke-width="0.2" stroke-linejoin="round" >z</text>
<text x="430.5" y="36.7" font-size="37" text-anchor="start" font-weight="normal" font-style="normal" fill="#000" stroke="#000" stroke-width="0.2" stroke-linejoin="round" >ground state</text>
<text x="428.5" y="171.1" font-size="36.3" text-anchor="start" font-weight="normal" font-style="normal" fill="#000" stroke="#000" stroke-width="0.2" stroke-linejoin="round" >excited state</text>
<text x="887.3" y="35.3" font-size="37.6" text-anchor="end" font-weight="normal" font-style="normal" fill="#000" stroke="#000" stroke-width="0.2" stroke-linejoin="round" >z basis</text>
<line x1="117.3" y1="443.6" x2="132.3" y2="443.6" stroke="#000" stroke-width="2.6"/><line x1="117.3" y1="553.3" x2="132.3" y2="553.3" stroke="#000" stroke-width="2.6"/><line x1="117.3" y1="663.0" x2="132.3" y2="663.0" stroke="#000" stroke-width="2.6"/><line x1="117.3" y1="388.8" x2="125.3" y2="388.8" stroke="#000" stroke-width="1.6"/><line x1="117.3" y1="416.2" x2="125.3" y2="416.2" stroke="#000" stroke-width="1.6"/><line x1="117.3" y1="471.0" x2="125.3" y2="471.0" stroke="#000" stroke-width="1.6"/><line x1="117.3" y1="498.5" x2="125.3" y2="498.5" stroke="#000" stroke-width="1.6"/><line x1="117.3" y1="525.9" x2="125.3" y2="525.9" stroke="#000" stroke-width="1.6"/><line x1="117.3" y1="580.7" x2="125.3" y2="580.7" stroke="#000" stroke-width="1.6"/><line x1="117.3" y1="608.2" x2="125.3" y2="608.2" stroke="#000" stroke-width="1.6"/><line x1="117.3" y1="635.6" x2="125.3" y2="635.6" stroke="#000" stroke-width="1.6"/><line x1="117.3" y1="690.4" x2="125.3" y2="690.4" stroke="#000" stroke-width="1.6"/><line x1="117.3" y1="717.9" x2="125.3" y2="717.9" stroke="#000" stroke-width="1.6"/>
<line x1="117.0" y1="729.4" x2="117.0" y2="714.4" stroke="#000" stroke-width="2.6"/><line x1="272.9" y1="729.4" x2="272.9" y2="714.4" stroke="#000" stroke-width="2.6"/><line x1="428.7" y1="729.4" x2="428.7" y2="714.4" stroke="#000" stroke-width="2.6"/><line x1="584.6" y1="729.4" x2="584.6" y2="714.4" stroke="#000" stroke-width="2.6"/><line x1="740.4" y1="729.4" x2="740.4" y2="714.4" stroke="#000" stroke-width="2.6"/><line x1="896.3" y1="729.4" x2="896.3" y2="714.4" stroke="#000" stroke-width="2.6"/><line x1="156.0" y1="729.4" x2="156.0" y2="721.4" stroke="#000" stroke-width="1.6"/><line x1="194.9" y1="729.4" x2="194.9" y2="721.4" stroke="#000" stroke-width="1.6"/><line x1="233.9" y1="729.4" x2="233.9" y2="721.4" stroke="#000" stroke-width="1.6"/><line x1="311.8" y1="729.4" x2="311.8" y2="721.4" stroke="#000" stroke-width="1.6"/><line x1="350.8" y1="729.4" x2="350.8" y2="721.4" stroke="#000" stroke-width="1.6"/><line x1="389.8" y1="729.4" x2="389.8" y2="721.4" stroke="#000" stroke-width="1.6"/><line x1="467.7" y1="729.4" x2="467.7" y2="721.4" stroke="#000" stroke-width="1.6"/><line x1="506.6" y1="729.4" x2="506.6" y2="721.4" stroke="#000" stroke-width="1.6"/><line x1="545.6" y1="729.4" x2="545.6" y2="721.4" stroke="#000" stroke-width="1.6"/><line x1="623.5" y1="729.4" x2="623.5" y2="721.4" stroke="#000" stroke-width="1.6"/><line x1="662.5" y1="729.4" x2="662.5" y2="721.4" stroke="#000" stroke-width="1.6"/><line x1="701.5" y1="729.4" x2="701.5" y2="721.4" stroke="#000" stroke-width="1.6"/><line x1="779.4" y1="729.4" x2="779.4" y2="721.4" stroke="#000" stroke-width="1.6"/><line x1="818.4" y1="729.4" x2="818.4" y2="721.4" stroke="#000" stroke-width="1.6"/><line x1="857.3" y1="729.4" x2="857.3" y2="721.4" stroke="#000" stroke-width="1.6"/>
<g clip-path="url(#cb)"><polyline points="117.2,445.0 125.0,444.5 132.8,444.5 140.6,438.3 148.4,439.2 156.2,446.0 164.0,452.6 171.8,446.0 179.5,449.5 187.3,452.6 195.1,449.0 202.9,447.0 210.7,454.3 218.5,449.0 226.3,453.4 234.1,452.6 241.9,450.0 249.7,450.5 257.5,455.2 265.3,455.6 273.1,455.2 280.9,455.2 288.6,457.0 296.4,457.4 304.2,457.0 312.0,457.0 319.8,460.6 327.6,459.7 335.4,460.6 343.2,459.4 351.0,462.2 358.8,466.1 366.6,460.0 374.4,459.4 382.2,460.0 390.0,468.3 397.7,468.3 405.5,467.8 413.3,463.3 421.1,465.6 428.9,470.0 436.7,471.6 444.5,472.1 452.3,469.4 460.1,469.4 467.9,475.7 475.7,469.4 483.5,473.9 491.3,476.6 499.1,473.9 506.8,478.3 514.6,480.1 522.4,478.3 530.2,484.6 538.0,487.2 545.8,484.6 553.6,543.5 561.4,546.2 569.2,546.2 577.0,552.6 584.8,549.2 592.6,554.0 600.4,556.2 608.2,558.3 616.0,559.3 623.7,566.1 631.5,677.5 639.3,442.8 647.1,571.6 654.9,577.9 662.7,576.2 670.5,583.6 678.3,578.3 686.1,581.5 693.9,590.0 701.7,586.8 709.5,587.8 717.3,681.7 725.1,683.7 732.8,684.7 740.6,676.5 748.4,680.2 756.2,681.4 764.0,680.2 771.8,680.2 779.6,682.9 787.4,683.8 795.2,682.9 803.0,683.8 810.8,685.6 818.6,686.4 826.4,682.9 834.2,684.7 841.9,685.6 849.7,682.9 857.5,682.0 865.3,680.2 873.1,683.8 880.9,683.8 888.7,682.9 896.5,687.3" fill="none" stroke="#566c79" stroke-width="2.7" stroke-dasharray="1.7 7.4" stroke-linecap="round"/><circle cx="117.2" cy="445.0" r="6.0" fill="#fff" stroke="#566c79" stroke-width="2.0"/><circle cx="125.0" cy="444.5" r="6.0" fill="#fff" stroke="#566c79" stroke-width="2.0"/><circle cx="132.8" cy="444.5" r="6.0" fill="#fff" stroke="#566c79" stroke-width="2.0"/><circle cx="140.6" cy="438.3" r="6.0" fill="#fff" stroke="#566c79" stroke-width="2.0"/><circle cx="148.4" cy="439.2" r="6.0" fill="#fff" stroke="#566c79" stroke-width="2.0"/><circle cx="156.2" cy="446.0" r="6.0" fill="#fff" stroke="#566c79" stroke-width="2.0"/><circle cx="164.0" cy="452.6" r="6.0" fill="#fff" stroke="#566c79" stroke-width="2.0"/><circle cx="171.8" cy="446.0" r="6.0" fill="#fff" stroke="#566c79" stroke-width="2.0"/><circle cx="179.5" cy="449.5" r="6.0" fill="#fff" stroke="#566c79" stroke-width="2.0"/><circle cx="187.3" cy="452.6" r="6.0" fill="#fff" stroke="#566c79" stroke-width="2.0"/><circle cx="195.1" cy="449.0" r="6.0" fill="#fff" stroke="#566c79" stroke-width="2.0"/><circle cx="202.9" cy="447.0" r="6.0" fill="#fff" stroke="#566c79" stroke-width="2.0"/><circle cx="210.7" cy="454.3" r="6.0" fill="#fff" stroke="#566c79" stroke-width="2.0"/><circle cx="218.5" cy="449.0" r="6.0" fill="#fff" stroke="#566c79" stroke-width="2.0"/><circle cx="226.3" cy="453.4" r="6.0" fill="#fff" stroke="#566c79" stroke-width="2.0"/><circle cx="234.1" cy="452.6" r="6.0" fill="#fff" stroke="#566c79" stroke-width="2.0"/><circle cx="241.9" cy="450.0" r="6.0" fill="#fff" stroke="#566c79" stroke-width="2.0"/><circle cx="249.7" cy="450.5" r="6.0" fill="#fff" stroke="#566c79" stroke-width="2.0"/><circle cx="257.5" cy="455.2" r="6.0" fill="#fff" stroke="#566c79" stroke-width="2.0"/><circle cx="265.3" cy="455.6" r="6.0" fill="#fff" stroke="#566c79" stroke-width="2.0"/><circle cx="273.1" cy="455.2" r="6.0" fill="#fff" stroke="#566c79" stroke-width="2.0"/><circle cx="280.9" cy="455.2" r="6.0" fill="#fff" stroke="#566c79" stroke-width="2.0"/><circle cx="288.6" cy="457.0" r="6.0" fill="#fff" stroke="#566c79" stroke-width="2.0"/><circle cx="296.4" cy="457.4" r="6.0" fill="#fff" stroke="#566c79" stroke-width="2.0"/><circle cx="304.2" cy="457.0" r="6.0" fill="#fff" stroke="#566c79" stroke-width="2.0"/><circle cx="312.0" cy="457.0" r="6.0" fill="#fff" stroke="#566c79" stroke-width="2.0"/><circle cx="319.8" cy="460.6" r="6.0" fill="#fff" stroke="#566c79" stroke-width="2.0"/><circle cx="327.6" cy="459.7" r="6.0" fill="#fff" stroke="#566c79" stroke-width="2.0"/><circle cx="335.4" cy="460.6" r="6.0" fill="#fff" stroke="#566c79" stroke-width="2.0"/><circle cx="343.2" cy="459.4" r="6.0" fill="#fff" stroke="#566c79" stroke-width="2.0"/><circle cx="351.0" cy="462.2" r="6.0" fill="#fff" stroke="#566c79" stroke-width="2.0"/><circle cx="358.8" cy="466.1" r="6.0" fill="#fff" stroke="#566c79" stroke-width="2.0"/><circle cx="366.6" cy="460.0" r="6.0" fill="#fff" stroke="#566c79" stroke-width="2.0"/><circle cx="374.4" cy="459.4" r="6.0" fill="#fff" stroke="#566c79" stroke-width="2.0"/><circle cx="382.2" cy="460.0" r="6.0" fill="#fff" stroke="#566c79" stroke-width="2.0"/><circle cx="390.0" cy="468.3" r="6.0" fill="#fff" stroke="#566c79" stroke-width="2.0"/><circle cx="397.7" cy="468.3" r="6.0" fill="#fff" stroke="#566c79" stroke-width="2.0"/><circle cx="405.5" cy="467.8" r="6.0" fill="#fff" stroke="#566c79" stroke-width="2.0"/><circle cx="413.3" cy="463.3" r="6.0" fill="#fff" stroke="#566c79" stroke-width="2.0"/><circle cx="421.1" cy="465.6" r="6.0" fill="#fff" stroke="#566c79" stroke-width="2.0"/><circle cx="428.9" cy="470.0" r="6.0" fill="#fff" stroke="#566c79" stroke-width="2.0"/><circle cx="436.7" cy="471.6" r="6.0" fill="#fff" stroke="#566c79" stroke-width="2.0"/><circle cx="444.5" cy="472.1" r="6.0" fill="#fff" stroke="#566c79" stroke-width="2.0"/><circle cx="452.3" cy="469.4" r="6.0" fill="#fff" stroke="#566c79" stroke-width="2.0"/><circle cx="460.1" cy="469.4" r="6.0" fill="#fff" stroke="#566c79" stroke-width="2.0"/><circle cx="467.9" cy="475.7" r="6.0" fill="#fff" stroke="#566c79" stroke-width="2.0"/><circle cx="475.7" cy="469.4" r="6.0" fill="#fff" stroke="#566c79" stroke-width="2.0"/><circle cx="483.5" cy="473.9" r="6.0" fill="#fff" stroke="#566c79" stroke-width="2.0"/><circle cx="491.3" cy="476.6" r="6.0" fill="#fff" stroke="#566c79" stroke-width="2.0"/><circle cx="499.1" cy="473.9" r="6.0" fill="#fff" stroke="#566c79" stroke-width="2.0"/><circle cx="506.8" cy="478.3" r="6.0" fill="#fff" stroke="#566c79" stroke-width="2.0"/><circle cx="514.6" cy="480.1" r="6.0" fill="#fff" stroke="#566c79" stroke-width="2.0"/><circle cx="522.4" cy="478.3" r="6.0" fill="#fff" stroke="#566c79" stroke-width="2.0"/><circle cx="530.2" cy="484.6" r="6.0" fill="#fff" stroke="#566c79" stroke-width="2.0"/><circle cx="538.0" cy="487.2" r="6.0" fill="#fff" stroke="#566c79" stroke-width="2.0"/><circle cx="545.8" cy="484.6" r="6.0" fill="#fff" stroke="#566c79" stroke-width="2.0"/><circle cx="553.6" cy="543.5" r="6.0" fill="#fff" stroke="#566c79" stroke-width="2.0"/><circle cx="561.4" cy="546.2" r="6.0" fill="#fff" stroke="#566c79" stroke-width="2.0"/><circle cx="569.2" cy="546.2" r="6.0" fill="#fff" stroke="#566c79" stroke-width="2.0"/><circle cx="577.0" cy="552.6" r="6.0" fill="#fff" stroke="#566c79" stroke-width="2.0"/><circle cx="584.8" cy="549.2" r="6.0" fill="#fff" stroke="#566c79" stroke-width="2.0"/><circle cx="592.6" cy="554.0" r="6.0" fill="#fff" stroke="#566c79" stroke-width="2.0"/><circle cx="600.4" cy="556.2" r="6.0" fill="#fff" stroke="#566c79" stroke-width="2.0"/><circle cx="608.2" cy="558.3" r="6.0" fill="#fff" stroke="#566c79" stroke-width="2.0"/><circle cx="616.0" cy="559.3" r="6.0" fill="#fff" stroke="#566c79" stroke-width="2.0"/><circle cx="623.7" cy="566.1" r="6.0" fill="#fff" stroke="#566c79" stroke-width="2.0"/><circle cx="631.5" cy="677.5" r="6.0" fill="#fff" stroke="#566c79" stroke-width="2.0"/><circle cx="639.3" cy="442.8" r="6.0" fill="#fff" stroke="#566c79" stroke-width="2.0"/><circle cx="647.1" cy="571.6" r="6.0" fill="#fff" stroke="#566c79" stroke-width="2.0"/><circle cx="654.9" cy="577.9" r="6.0" fill="#fff" stroke="#566c79" stroke-width="2.0"/><circle cx="662.7" cy="576.2" r="6.0" fill="#fff" stroke="#566c79" stroke-width="2.0"/><circle cx="670.5" cy="583.6" r="6.0" fill="#fff" stroke="#566c79" stroke-width="2.0"/><circle cx="678.3" cy="578.3" r="6.0" fill="#fff" stroke="#566c79" stroke-width="2.0"/><circle cx="686.1" cy="581.5" r="6.0" fill="#fff" stroke="#566c79" stroke-width="2.0"/><circle cx="693.9" cy="590.0" r="6.0" fill="#fff" stroke="#566c79" stroke-width="2.0"/><circle cx="701.7" cy="586.8" r="6.0" fill="#fff" stroke="#566c79" stroke-width="2.0"/><circle cx="709.5" cy="587.8" r="6.0" fill="#fff" stroke="#566c79" stroke-width="2.0"/><circle cx="717.3" cy="681.7" r="6.0" fill="#fff" stroke="#566c79" stroke-width="2.0"/><circle cx="725.1" cy="683.7" r="6.0" fill="#fff" stroke="#566c79" stroke-width="2.0"/><circle cx="732.8" cy="684.7" r="6.0" fill="#fff" stroke="#566c79" stroke-width="2.0"/><circle cx="740.6" cy="676.5" r="6.0" fill="#fff" stroke="#566c79" stroke-width="2.0"/><circle cx="748.4" cy="680.2" r="6.0" fill="#fff" stroke="#566c79" stroke-width="2.0"/><circle cx="756.2" cy="681.4" r="6.0" fill="#fff" stroke="#566c79" stroke-width="2.0"/><circle cx="764.0" cy="680.2" r="6.0" fill="#fff" stroke="#566c79" stroke-width="2.0"/><circle cx="771.8" cy="680.2" r="6.0" fill="#fff" stroke="#566c79" stroke-width="2.0"/><circle cx="779.6" cy="682.9" r="6.0" fill="#fff" stroke="#566c79" stroke-width="2.0"/><circle cx="787.4" cy="683.8" r="6.0" fill="#fff" stroke="#566c79" stroke-width="2.0"/><circle cx="795.2" cy="682.9" r="6.0" fill="#fff" stroke="#566c79" stroke-width="2.0"/><circle cx="803.0" cy="683.8" r="6.0" fill="#fff" stroke="#566c79" stroke-width="2.0"/><circle cx="810.8" cy="685.6" r="6.0" fill="#fff" stroke="#566c79" stroke-width="2.0"/><circle cx="818.6" cy="686.4" r="6.0" fill="#fff" stroke="#566c79" stroke-width="2.0"/><circle cx="826.4" cy="682.9" r="6.0" fill="#fff" stroke="#566c79" stroke-width="2.0"/><circle cx="834.2" cy="684.7" r="6.0" fill="#fff" stroke="#566c79" stroke-width="2.0"/><circle cx="841.9" cy="685.6" r="6.0" fill="#fff" stroke="#566c79" stroke-width="2.0"/><circle cx="849.7" cy="682.9" r="6.0" fill="#fff" stroke="#566c79" stroke-width="2.0"/><circle cx="857.5" cy="682.0" r="6.0" fill="#fff" stroke="#566c79" stroke-width="2.0"/><circle cx="865.3" cy="680.2" r="6.0" fill="#fff" stroke="#566c79" stroke-width="2.0"/><circle cx="873.1" cy="683.8" r="6.0" fill="#fff" stroke="#566c79" stroke-width="2.0"/><circle cx="880.9" cy="683.8" r="6.0" fill="#fff" stroke="#566c79" stroke-width="2.0"/><circle cx="888.7" cy="682.9" r="6.0" fill="#fff" stroke="#566c79" stroke-width="2.0"/><circle cx="896.5" cy="687.3" r="6.0" fill="#fff" stroke="#566c79" stroke-width="2.0"/></g>
<g clip-path="url(#cb)"><polyline points="117.2,446.0 125.0,442.8 132.8,448.1 140.6,443.3 148.4,442.4 156.2,442.8 164.0,442.4 171.8,442.8 179.5,445.4 187.3,442.8 195.1,443.7 202.9,444.9 210.7,446.3 218.5,444.6 226.3,441.9 234.1,444.9 241.9,446.0 249.7,446.0 257.5,446.0 265.3,443.3 273.1,442.8 280.9,442.8 288.6,444.6 296.4,446.0 304.2,445.4 312.0,444.2 319.8,440.1 327.6,442.8 335.4,444.9 343.2,441.9 351.0,445.4 358.8,441.9 366.6,443.7 374.4,444.9 382.2,446.0 390.0,441.0 397.7,443.7 405.5,446.3 413.3,441.9 421.1,445.4 428.9,447.2 436.7,446.0 444.5,447.2 452.3,449.9 460.1,444.6 467.9,445.4 475.7,446.0 483.5,441.9 491.3,442.8 499.1,444.6 506.8,441.0 514.6,446.0 522.4,437.4 530.2,442.8 538.0,445.4 545.8,444.9 553.6,441.1 561.4,445.8 569.2,444.9 577.0,441.1 584.8,442.8 592.6,447.0 600.4,442.2 608.2,444.3 616.0,442.2 623.7,445.3 631.5,444.9 639.3,681.7 647.1,684.7 654.9,683.7 662.7,685.0 670.5,685.8 678.3,687.5 686.1,686.7 693.9,685.8 701.7,690.8 709.5,689.7 717.3,690.8 725.1,693.3 732.8,689.7 740.6,690.8 748.4,684.8 756.2,696.0 764.0,698.0 771.8,691.8 779.6,698.9 787.4,697.1 795.2,690.9 803.0,697.1 810.8,695.3 818.6,696.2 826.4,692.7 834.2,693.6 841.9,700.7 849.7,692.7 857.5,694.4 865.3,690.9 873.1,697.1 880.9,699.8 888.7,695.3 896.5,694.4" fill="none" stroke="#d87372" stroke-width="2.7" stroke-dasharray="1.7 7.4" stroke-linecap="round"/><circle cx="117.2" cy="446.0" r="6.0" fill="#fff" stroke="#d87372" stroke-width="2.0"/><circle cx="125.0" cy="442.8" r="6.0" fill="#fff" stroke="#d87372" stroke-width="2.0"/><circle cx="132.8" cy="448.1" r="6.0" fill="#fff" stroke="#d87372" stroke-width="2.0"/><circle cx="140.6" cy="443.3" r="6.0" fill="#fff" stroke="#d87372" stroke-width="2.0"/><circle cx="148.4" cy="442.4" r="6.0" fill="#fff" stroke="#d87372" stroke-width="2.0"/><circle cx="156.2" cy="442.8" r="6.0" fill="#fff" stroke="#d87372" stroke-width="2.0"/><circle cx="164.0" cy="442.4" r="6.0" fill="#fff" stroke="#d87372" stroke-width="2.0"/><circle cx="171.8" cy="442.8" r="6.0" fill="#fff" stroke="#d87372" stroke-width="2.0"/><circle cx="179.5" cy="445.4" r="6.0" fill="#fff" stroke="#d87372" stroke-width="2.0"/><circle cx="187.3" cy="442.8" r="6.0" fill="#fff" stroke="#d87372" stroke-width="2.0"/><circle cx="195.1" cy="443.7" r="6.0" fill="#fff" stroke="#d87372" stroke-width="2.0"/><circle cx="202.9" cy="444.9" r="6.0" fill="#fff" stroke="#d87372" stroke-width="2.0"/><circle cx="210.7" cy="446.3" r="6.0" fill="#fff" stroke="#d87372" stroke-width="2.0"/><circle cx="218.5" cy="444.6" r="6.0" fill="#fff" stroke="#d87372" stroke-width="2.0"/><circle cx="226.3" cy="441.9" r="6.0" fill="#fff" stroke="#d87372" stroke-width="2.0"/><circle cx="234.1" cy="444.9" r="6.0" fill="#fff" stroke="#d87372" stroke-width="2.0"/><circle cx="241.9" cy="446.0" r="6.0" fill="#fff" stroke="#d87372" stroke-width="2.0"/><circle cx="249.7" cy="446.0" r="6.0" fill="#fff" stroke="#d87372" stroke-width="2.0"/><circle cx="257.5" cy="446.0" r="6.0" fill="#fff" stroke="#d87372" stroke-width="2.0"/><circle cx="265.3" cy="443.3" r="6.0" fill="#fff" stroke="#d87372" stroke-width="2.0"/><circle cx="273.1" cy="442.8" r="6.0" fill="#fff" stroke="#d87372" stroke-width="2.0"/><circle cx="280.9" cy="442.8" r="6.0" fill="#fff" stroke="#d87372" stroke-width="2.0"/><circle cx="288.6" cy="444.6" r="6.0" fill="#fff" stroke="#d87372" stroke-width="2.0"/><circle cx="296.4" cy="446.0" r="6.0" fill="#fff" stroke="#d87372" stroke-width="2.0"/><circle cx="304.2" cy="445.4" r="6.0" fill="#fff" stroke="#d87372" stroke-width="2.0"/><circle cx="312.0" cy="444.2" r="6.0" fill="#fff" stroke="#d87372" stroke-width="2.0"/><circle cx="319.8" cy="440.1" r="6.0" fill="#fff" stroke="#d87372" stroke-width="2.0"/><circle cx="327.6" cy="442.8" r="6.0" fill="#fff" stroke="#d87372" stroke-width="2.0"/><circle cx="335.4" cy="444.9" r="6.0" fill="#fff" stroke="#d87372" stroke-width="2.0"/><circle cx="343.2" cy="441.9" r="6.0" fill="#fff" stroke="#d87372" stroke-width="2.0"/><circle cx="351.0" cy="445.4" r="6.0" fill="#fff" stroke="#d87372" stroke-width="2.0"/><circle cx="358.8" cy="441.9" r="6.0" fill="#fff" stroke="#d87372" stroke-width="2.0"/><circle cx="366.6" cy="443.7" r="6.0" fill="#fff" stroke="#d87372" stroke-width="2.0"/><circle cx="374.4" cy="444.9" r="6.0" fill="#fff" stroke="#d87372" stroke-width="2.0"/><circle cx="382.2" cy="446.0" r="6.0" fill="#fff" stroke="#d87372" stroke-width="2.0"/><circle cx="390.0" cy="441.0" r="6.0" fill="#fff" stroke="#d87372" stroke-width="2.0"/><circle cx="397.7" cy="443.7" r="6.0" fill="#fff" stroke="#d87372" stroke-width="2.0"/><circle cx="405.5" cy="446.3" r="6.0" fill="#fff" stroke="#d87372" stroke-width="2.0"/><circle cx="413.3" cy="441.9" r="6.0" fill="#fff" stroke="#d87372" stroke-width="2.0"/><circle cx="421.1" cy="445.4" r="6.0" fill="#fff" stroke="#d87372" stroke-width="2.0"/><circle cx="428.9" cy="447.2" r="6.0" fill="#fff" stroke="#d87372" stroke-width="2.0"/><circle cx="436.7" cy="446.0" r="6.0" fill="#fff" stroke="#d87372" stroke-width="2.0"/><circle cx="444.5" cy="447.2" r="6.0" fill="#fff" stroke="#d87372" stroke-width="2.0"/><circle cx="452.3" cy="449.9" r="6.0" fill="#fff" stroke="#d87372" stroke-width="2.0"/><circle cx="460.1" cy="444.6" r="6.0" fill="#fff" stroke="#d87372" stroke-width="2.0"/><circle cx="467.9" cy="445.4" r="6.0" fill="#fff" stroke="#d87372" stroke-width="2.0"/><circle cx="475.7" cy="446.0" r="6.0" fill="#fff" stroke="#d87372" stroke-width="2.0"/><circle cx="483.5" cy="441.9" r="6.0" fill="#fff" stroke="#d87372" stroke-width="2.0"/><circle cx="491.3" cy="442.8" r="6.0" fill="#fff" stroke="#d87372" stroke-width="2.0"/><circle cx="499.1" cy="444.6" r="6.0" fill="#fff" stroke="#d87372" stroke-width="2.0"/><circle cx="506.8" cy="441.0" r="6.0" fill="#fff" stroke="#d87372" stroke-width="2.0"/><circle cx="514.6" cy="446.0" r="6.0" fill="#fff" stroke="#d87372" stroke-width="2.0"/><circle cx="522.4" cy="437.4" r="6.0" fill="#fff" stroke="#d87372" stroke-width="2.0"/><circle cx="530.2" cy="442.8" r="6.0" fill="#fff" stroke="#d87372" stroke-width="2.0"/><circle cx="538.0" cy="445.4" r="6.0" fill="#fff" stroke="#d87372" stroke-width="2.0"/><circle cx="545.8" cy="444.9" r="6.0" fill="#fff" stroke="#d87372" stroke-width="2.0"/><circle cx="553.6" cy="441.1" r="6.0" fill="#fff" stroke="#d87372" stroke-width="2.0"/><circle cx="561.4" cy="445.8" r="6.0" fill="#fff" stroke="#d87372" stroke-width="2.0"/><circle cx="569.2" cy="444.9" r="6.0" fill="#fff" stroke="#d87372" stroke-width="2.0"/><circle cx="577.0" cy="441.1" r="6.0" fill="#fff" stroke="#d87372" stroke-width="2.0"/><circle cx="584.8" cy="442.8" r="6.0" fill="#fff" stroke="#d87372" stroke-width="2.0"/><circle cx="592.6" cy="447.0" r="6.0" fill="#fff" stroke="#d87372" stroke-width="2.0"/><circle cx="600.4" cy="442.2" r="6.0" fill="#fff" stroke="#d87372" stroke-width="2.0"/><circle cx="608.2" cy="444.3" r="6.0" fill="#fff" stroke="#d87372" stroke-width="2.0"/><circle cx="616.0" cy="442.2" r="6.0" fill="#fff" stroke="#d87372" stroke-width="2.0"/><circle cx="623.7" cy="445.3" r="6.0" fill="#fff" stroke="#d87372" stroke-width="2.0"/><circle cx="631.5" cy="444.9" r="6.0" fill="#fff" stroke="#d87372" stroke-width="2.0"/><circle cx="639.3" cy="681.7" r="6.0" fill="#fff" stroke="#d87372" stroke-width="2.0"/><circle cx="647.1" cy="684.7" r="6.0" fill="#fff" stroke="#d87372" stroke-width="2.0"/><circle cx="654.9" cy="683.7" r="6.0" fill="#fff" stroke="#d87372" stroke-width="2.0"/><circle cx="662.7" cy="685.0" r="6.0" fill="#fff" stroke="#d87372" stroke-width="2.0"/><circle cx="670.5" cy="685.8" r="6.0" fill="#fff" stroke="#d87372" stroke-width="2.0"/><circle cx="678.3" cy="687.5" r="6.0" fill="#fff" stroke="#d87372" stroke-width="2.0"/><circle cx="686.1" cy="686.7" r="6.0" fill="#fff" stroke="#d87372" stroke-width="2.0"/><circle cx="693.9" cy="685.8" r="6.0" fill="#fff" stroke="#d87372" stroke-width="2.0"/><circle cx="701.7" cy="690.8" r="6.0" fill="#fff" stroke="#d87372" stroke-width="2.0"/><circle cx="709.5" cy="689.7" r="6.0" fill="#fff" stroke="#d87372" stroke-width="2.0"/><circle cx="717.3" cy="690.8" r="6.0" fill="#fff" stroke="#d87372" stroke-width="2.0"/><circle cx="725.1" cy="693.3" r="6.0" fill="#fff" stroke="#d87372" stroke-width="2.0"/><circle cx="732.8" cy="689.7" r="6.0" fill="#fff" stroke="#d87372" stroke-width="2.0"/><circle cx="740.6" cy="690.8" r="6.0" fill="#fff" stroke="#d87372" stroke-width="2.0"/><circle cx="748.4" cy="684.8" r="6.0" fill="#fff" stroke="#d87372" stroke-width="2.0"/><circle cx="756.2" cy="696.0" r="6.0" fill="#fff" stroke="#d87372" stroke-width="2.0"/><circle cx="764.0" cy="698.0" r="6.0" fill="#fff" stroke="#d87372" stroke-width="2.0"/><circle cx="771.8" cy="691.8" r="6.0" fill="#fff" stroke="#d87372" stroke-width="2.0"/><circle cx="779.6" cy="698.9" r="6.0" fill="#fff" stroke="#d87372" stroke-width="2.0"/><circle cx="787.4" cy="697.1" r="6.0" fill="#fff" stroke="#d87372" stroke-width="2.0"/><circle cx="795.2" cy="690.9" r="6.0" fill="#fff" stroke="#d87372" stroke-width="2.0"/><circle cx="803.0" cy="697.1" r="6.0" fill="#fff" stroke="#d87372" stroke-width="2.0"/><circle cx="810.8" cy="695.3" r="6.0" fill="#fff" stroke="#d87372" stroke-width="2.0"/><circle cx="818.6" cy="696.2" r="6.0" fill="#fff" stroke="#d87372" stroke-width="2.0"/><circle cx="826.4" cy="692.7" r="6.0" fill="#fff" stroke="#d87372" stroke-width="2.0"/><circle cx="834.2" cy="693.6" r="6.0" fill="#fff" stroke="#d87372" stroke-width="2.0"/><circle cx="841.9" cy="700.7" r="6.0" fill="#fff" stroke="#d87372" stroke-width="2.0"/><circle cx="849.7" cy="692.7" r="6.0" fill="#fff" stroke="#d87372" stroke-width="2.0"/><circle cx="857.5" cy="694.4" r="6.0" fill="#fff" stroke="#d87372" stroke-width="2.0"/><circle cx="865.3" cy="690.9" r="6.0" fill="#fff" stroke="#d87372" stroke-width="2.0"/><circle cx="873.1" cy="697.1" r="6.0" fill="#fff" stroke="#d87372" stroke-width="2.0"/><circle cx="880.9" cy="699.8" r="6.0" fill="#fff" stroke="#d87372" stroke-width="2.0"/><circle cx="888.7" cy="695.3" r="6.0" fill="#fff" stroke="#d87372" stroke-width="2.0"/><circle cx="896.5" cy="694.4" r="6.0" fill="#fff" stroke="#d87372" stroke-width="2.0"/></g>
<rect x="117.3" y="377.8" width="779.3" height="351.5" fill="none" stroke="#000" stroke-width="1.6"/>
<text x="0" y="0" transform="translate(104.3,454.0) scale(1.0,1.06)" font-size="28" text-anchor="end" font-weight="normal" font-style="normal" fill="#000" stroke="#000" stroke-width="0.2" stroke-linejoin="round" >0.25</text>
<text x="0" y="0" transform="translate(104.3,563.7) scale(1.0,1.06)" font-size="28" text-anchor="end" font-weight="normal" font-style="normal" fill="#000" stroke="#000" stroke-width="0.2" stroke-linejoin="round" >0.2</text>
<text x="0" y="0" transform="translate(104.3,673.4) scale(1.0,1.06)" font-size="28" text-anchor="end" font-weight="normal" font-style="normal" fill="#000" stroke="#000" stroke-width="0.2" stroke-linejoin="round" >0.15</text>
<text x="0" y="0" transform="translate(117.0,763.6) scale(1.0,1.06)" font-size="28" text-anchor="middle" font-weight="normal" font-style="normal" fill="#000" stroke="#000" stroke-width="0.2" stroke-linejoin="round" >0</text>
<text x="0" y="0" transform="translate(272.9,763.6) scale(1.0,1.06)" font-size="28" text-anchor="middle" font-weight="normal" font-style="normal" fill="#000" stroke="#000" stroke-width="0.2" stroke-linejoin="round" >0.2</text>
<text x="0" y="0" transform="translate(428.7,763.6) scale(1.0,1.06)" font-size="28" text-anchor="middle" font-weight="normal" font-style="normal" fill="#000" stroke="#000" stroke-width="0.2" stroke-linejoin="round" >0.4</text>
<text x="0" y="0" transform="translate(584.6,763.6) scale(1.0,1.06)" font-size="28" text-anchor="middle" font-weight="normal" font-style="normal" fill="#000" stroke="#000" stroke-width="0.2" stroke-linejoin="round" >0.6</text>
<text x="0" y="0" transform="translate(740.4,763.6) scale(1.0,1.06)" font-size="28" text-anchor="middle" font-weight="normal" font-style="normal" fill="#000" stroke="#000" stroke-width="0.2" stroke-linejoin="round" >0.8</text>
<text x="0" y="0" transform="translate(897.8,763.6) scale(1.0,1.06)" font-size="28" text-anchor="middle" font-weight="normal" font-style="normal" fill="#000" stroke="#000" stroke-width="0.2" stroke-linejoin="round" >1</text>
<text x="0" y="0" transform="translate(-1.3,409.6) scale(1.0,0.955)" font-size="56" text-anchor="start" font-weight="bold" font-style="normal" fill="#000" stroke="#000" stroke-width="0.2" stroke-linejoin="round" >b</text>
<g transform="translate(0,503.5) scale(1.0)" fill="#000">
<path d="M3.0,14.6 C2.6,13.2 4.2,11.2 6.2,9.8 C10.5,6.6 16,4.4 24,4.0 C31,3.7 38,6.5 41.8,12.2 C43.9,15.6 44.2,20.6 43.0,24.6 C41,31.4 35,36.6 27.8,39.2 C21.5,41.5 14,42.2 5.8,42.1 L5.6,41.5 C8.5,40.6 11.5,39.4 13.9,38.6 C19.5,38.4 25,37.2 29.9,33.8 C34.6,30.4 37.8,25.6 38.3,21.0 C38.7,16.2 36.8,12.2 33.5,10.0 C29.6,7.6 24.5,7.0 19.8,7.3 C14.8,7.6 10.2,9.4 7.2,12.3 C6.0,13.6 5.0,15.2 3.0,14.6 Z"/>
<path d="M16.9,5.6 L21.8,5.4 L14.3,39.2 L9.2,41.6 Z"/>
<ellipse cx="5.0" cy="13.2" rx="2.7" ry="1.7" transform="rotate(-38 5.0 13.2)"/>
</g>
<text x="0" y="0" transform="translate(45.5,522) scale(1.3,1.0)" font-size="36" text-anchor="start" font-weight="normal" font-style="normal" fill="#000" >r</text>
<text x="336.2" y="423.3" font-size="37" text-anchor="start" font-weight="normal" font-style="normal" fill="#000" stroke="#000" stroke-width="0.2" stroke-linejoin="round" >ground state</text>
<text x="357.3" y="524.7" font-size="36.3" text-anchor="start" font-weight="normal" font-style="normal" fill="#000" stroke="#000" stroke-width="0.2" stroke-linejoin="round" >excited state</text>
<text x="888.5" y="413" font-size="37" text-anchor="end" font-weight="normal" font-style="normal" fill="#000" stroke="#000" stroke-width="0.2" stroke-linejoin="round" >random basis</text>
<g transform="translate(452.9,766.6)" fill="#000"><path d="M13.2,0.3 L27.1,0.3 L27.1,2.1 L13.2,2.1 Z M23.9,1.5 L18.1,22.9 C16.7,28.9 12.6,33.7 6.9,33.7 C3.5,33.7 0.7,32.0 0.5,29.4 L2.6,29.4 C3.6,31.2 5.1,32.0 6.9,32.0 C10.6,32.0 12.7,28.4 13.7,23.9 L18.6,1.5 Z"/><circle cx="3.4" cy="27.6" r="2.7"/></g>
<text x="0" y="0" transform="translate(477.2,806) scale(1.15,1.0)" font-size="31" text-anchor="start" font-weight="normal" font-style="normal" fill="#000" stroke="#000" stroke-width="0.2" stroke-linejoin="round" >2</text>
<line x1="501.2" y1="810.4" x2="518.2" y2="763.9" stroke="#000" stroke-width="2.3"/>
<g transform="translate(524.4,766.6)" fill="#000"><path d="M13.2,0.3 L27.1,0.3 L27.1,2.1 L13.2,2.1 Z M23.9,1.5 L18.1,22.9 C16.7,28.9 12.6,33.7 6.9,33.7 C3.5,33.7 0.7,32.0 0.5,29.4 L2.6,29.4 C3.6,31.2 5.1,32.0 6.9,32.0 C10.6,32.0 12.7,28.4 13.7,23.9 L18.6,1.5 Z"/><circle cx="3.4" cy="27.6" r="2.7"/></g>
<text x="0" y="0" transform="translate(548.5,806) scale(1.15,1.0)" font-size="31" text-anchor="start" font-weight="normal" font-style="normal" fill="#000" stroke="#000" stroke-width="0.2" stroke-linejoin="round" >1</text>
<line x1="119.6" y1="828.8" x2="134.6" y2="828.8" stroke="#000" stroke-width="2.6"/><line x1="119.6" y1="1026.5" x2="134.6" y2="1026.5" stroke="#000" stroke-width="2.6"/><line x1="119.6" y1="1224.2" x2="134.6" y2="1224.2" stroke="#000" stroke-width="2.6"/><line x1="119.6" y1="868.3" x2="127.6" y2="868.3" stroke="#000" stroke-width="1.6"/><line x1="119.6" y1="907.9" x2="127.6" y2="907.9" stroke="#000" stroke-width="1.6"/><line x1="119.6" y1="947.4" x2="127.6" y2="947.4" stroke="#000" stroke-width="1.6"/><line x1="119.6" y1="987.0" x2="127.6" y2="987.0" stroke="#000" stroke-width="1.6"/><line x1="119.6" y1="1066.0" x2="127.6" y2="1066.0" stroke="#000" stroke-width="1.6"/><line x1="119.6" y1="1105.6" x2="127.6" y2="1105.6" stroke="#000" stroke-width="1.6"/><line x1="119.6" y1="1145.1" x2="127.6" y2="1145.1" stroke="#000" stroke-width="1.6"/><line x1="119.6" y1="1184.7" x2="127.6" y2="1184.7" stroke="#000" stroke-width="1.6"/>
<line x1="157.8" y1="1238.3" x2="157.8" y2="1223.5" stroke="#000" stroke-width="2.6"/><line x1="297.2" y1="1238.3" x2="297.2" y2="1223.5" stroke="#000" stroke-width="2.6"/><line x1="436.6" y1="1238.3" x2="436.6" y2="1223.5" stroke="#000" stroke-width="2.6"/><line x1="576.0" y1="1238.3" x2="576.0" y2="1223.5" stroke="#000" stroke-width="2.6"/><line x1="715.4" y1="1238.3" x2="715.4" y2="1223.5" stroke="#000" stroke-width="2.6"/><line x1="854.8" y1="1238.3" x2="854.8" y2="1223.5" stroke="#000" stroke-width="2.6"/>
<g clip-path="url(#cc)">
<polyline points="157.8,851.5 297.2,1161.5 436.6,1162.3 576.0,1224.2 715.4,1224.2 854.8,1224.2 994.2,1224.2" fill="none" stroke="#d87372" stroke-width="2.8" stroke-dasharray="1.6 7.2" stroke-linecap="round"/>
<circle cx="157.8" cy="851.5" r="8.8" fill="#d87372"/>
<circle cx="297.2" cy="1161.5" r="8.8" fill="#d87372"/>
<circle cx="436.6" cy="1162.3" r="8.8" fill="#d87372"/>
<circle cx="576.0" cy="1224.2" r="8.8" fill="#d87372"/>
<circle cx="715.4" cy="1224.2" r="8.8" fill="#d87372"/>
<circle cx="854.8" cy="1224.2" r="8.8" fill="#d87372"/>
<circle cx="994.2" cy="1224.2" r="8.8" fill="#d87372"/>
<polyline points="157.8,1034.6 297.2,1163.3 436.6,1205.6 576.0,1224.2 715.4,1224.2 854.8,1224.2 994.2,1224.2" fill="none" stroke="#566c79" stroke-width="2.8" stroke-dasharray="1.6 7.2" stroke-linecap="round"/>
<rect x="149.6" y="1026.4" width="16.4" height="16.4" fill="#566c79"/>
<rect x="289.0" y="1155.1" width="16.4" height="16.4" fill="#566c79"/>
<rect x="428.4" y="1197.4" width="16.4" height="16.4" fill="#566c79"/>
<rect x="567.8" y="1216.0" width="16.4" height="16.4" fill="#566c79"/>
<rect x="707.2" y="1216.0" width="16.4" height="16.4" fill="#566c79"/>
<rect x="846.6" y="1216.0" width="16.4" height="16.4" fill="#566c79"/>
<rect x="986.0" y="1216.0" width="16.4" height="16.4" fill="#566c79"/>
</g>
<rect x="119.6" y="828.2" width="777.6" height="410.1" fill="none" stroke="#000" stroke-width="1.6"/>
<text x="0" y="0" transform="translate(107.2,838.8) scale(1.0,1.04)" font-size="28" text-anchor="end" font-weight="normal" font-style="normal" fill="#000" stroke="#000" stroke-width="0.2" stroke-linejoin="round" >0.2</text>
<text x="0" y="0" transform="translate(107.2,1036.5) scale(1.0,1.04)" font-size="28" text-anchor="end" font-weight="normal" font-style="normal" fill="#000" stroke="#000" stroke-width="0.2" stroke-linejoin="round" >0.1</text>
<text x="0" y="0" transform="translate(107.2,1234.2) scale(1.0,1.04)" font-size="28" text-anchor="end" font-weight="normal" font-style="normal" fill="#000" stroke="#000" stroke-width="0.2" stroke-linejoin="round" >0</text>
<text x="0" y="0" transform="translate(157.8,1270.7) scale(1.0,1.07)" font-size="26.5" text-anchor="middle" font-weight="normal" font-style="normal" fill="#000" stroke="#000" stroke-width="0.2" stroke-linejoin="round" >1</text>
<text x="0" y="0" transform="translate(297.2,1270.7) scale(1.0,1.07)" font-size="26.5" text-anchor="middle" font-weight="normal" font-style="normal" fill="#000" stroke="#000" stroke-width="0.2" stroke-linejoin="round" >2</text>
<text x="0" y="0" transform="translate(436.6,1270.7) scale(1.0,1.07)" font-size="26.5" text-anchor="middle" font-weight="normal" font-style="normal" fill="#000" stroke="#000" stroke-width="0.2" stroke-linejoin="round" >3</text>
<text x="0" y="0" transform="translate(576.0,1270.7) scale(1.0,1.07)" font-size="26.5" text-anchor="middle" font-weight="normal" font-style="normal" fill="#000" stroke="#000" stroke-width="0.2" stroke-linejoin="round" >4</text>
<text x="0" y="0" transform="translate(715.4,1270.7) scale(1.0,1.07)" font-size="26.5" text-anchor="middle" font-weight="normal" font-style="normal" fill="#000" stroke="#000" stroke-width="0.2" stroke-linejoin="round" >5</text>
<text x="0" y="0" transform="translate(854.8,1270.7) scale(1.0,1.07)" font-size="26.5" text-anchor="middle" font-weight="normal" font-style="normal" fill="#000" stroke="#000" stroke-width="0.2" stroke-linejoin="round" >6</text>
<text x="0" y="0" transform="translate(8,872.5) scale(1.0,1.12)" font-size="54" text-anchor="start" font-weight="bold" font-style="normal" fill="#000" stroke="#000" stroke-width="0.2" stroke-linejoin="round" >c</text>
<g transform="translate(2.5,1012) scale(0.93)" fill="#000">
<path d="M3.0,14.6 C2.6,13.2 4.2,11.2 6.2,9.8 C10.5,6.6 16,4.4 24,4.0 C31,3.7 38,6.5 41.8,12.2 C43.9,15.6 44.2,20.6 43.0,24.6 C41,31.4 35,36.6 27.8,39.2 C21.5,41.5 14,42.2 5.8,42.1 L5.6,41.5 C8.5,40.6 11.5,39.4 13.9,38.6 C19.5,38.4 25,37.2 29.9,33.8 C34.6,30.4 37.8,25.6 38.3,21.0 C38.7,16.2 36.8,12.2 33.5,10.0 C29.6,7.6 24.5,7.0 19.8,7.3 C14.8,7.6 10.2,9.4 7.2,12.3 C6.0,13.6 5.0,15.2 3.0,14.6 Z"/>
<path d="M16.9,5.6 L21.8,5.4 L14.3,39.2 L9.2,41.6 Z"/>
<ellipse cx="5.0" cy="13.2" rx="2.7" ry="1.7" transform="rotate(-38 5.0 13.2)"/>
</g>
<text x="46.5" y="1032" font-size="34" text-anchor="start" font-weight="normal" font-style="normal" fill="#000" stroke="#000" stroke-width="0.2" stroke-linejoin="round" >z</text>
<text x="44.5" y="1064" font-size="36" text-anchor="start" font-weight="normal" font-style="italic" fill="#000" stroke="#000" stroke-width="0.2" stroke-linejoin="round" >k</text>
<text x="200.3" y="920.4" font-size="36.2" text-anchor="start" font-weight="normal" font-style="normal" fill="#000" stroke="#000" stroke-width="0.2" stroke-linejoin="round" >singlet</text>
<text x="335.5" y="1223.3" font-size="34.8" text-anchor="start" font-weight="normal" font-style="normal" fill="#000" stroke="#000" stroke-width="0.2" stroke-linejoin="round" >Neel</text>
<text x="893.5" y="854.8" font-size="35.8" text-anchor="end" font-weight="normal" font-style="normal" fill="#000" stroke="#000" stroke-width="0.2" stroke-linejoin="round" >z basis</text>
<text x="499" y="1318" font-size="52" text-anchor="start" font-weight="normal" font-style="italic" fill="#000" stroke="#000" stroke-width="0.2" stroke-linejoin="round" >k</text>
</svg></body></html>
